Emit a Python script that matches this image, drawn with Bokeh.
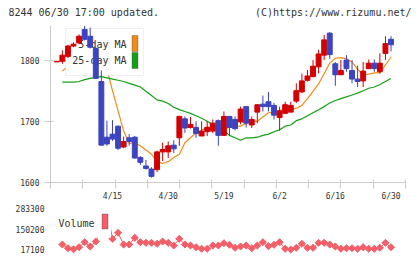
import math
from bokeh.plotting import figure
from bokeh.layouts import column
from bokeh.models import (ColumnDataSource, FixedTicker, NumeralTickFormatter,
                          Label, BoxAnnotation, Range1d)
from bokeh.embed import file_html
from bokeh.resources import INLINE

NAN = float("nan")

# ---- daily prices (trading-day index 0..60) ----
opens = [1797, 1798, 1806, 1823, 1828, 1850, 1839, 1819, 1765, 1674,
         1679, 1692, 1658, 1673, 1674, 1641, 1627, 1622, 1621, 1650,
         1650, 1661, 1673, 1704, 1690, 1690, 1676, 1683, 1684, 1701,
         1677, 1708, 1703, 1699, 1724, 1694, 1715, 1728, 1732, 1726,
         1706, 1713, 1715, 1733, 1748, 1767, 1773, 1789, 1808, 1844,
         1794, 1776, 1800, 1783, 1769, 1766, 1786, 1795, 1781, 1811,
         1834]
highs = [1798, 1816, 1825, 1829, 1842, 1856, 1853, 1821, 1783, 1701,
         1702, 1693, 1675, 1679, 1676, 1643, 1637, 1625, 1652, 1665,
         1667, 1669, 1709, 1708, 1707, 1700, 1700, 1700, 1703, 1703,
         1716, 1708, 1708, 1724, 1724, 1708, 1728, 1742, 1748, 1730,
         1724, 1732, 1732, 1762, 1778, 1784, 1800, 1817, 1841, 1846,
         1797, 1800, 1808, 1800, 1791, 1797, 1801, 1801, 1811, 1839,
         1839]
lows = [1797, 1794, 1803, 1821, 1826, 1832, 1819, 1769, 1660, 1660,
        1668, 1653, 1656, 1660, 1639, 1629, 1621, 1608, 1617, 1635,
        1640, 1648, 1660, 1681, 1688, 1673, 1676, 1676, 1681, 1660,
        1677, 1676, 1685, 1695, 1690, 1689, 1697, 1716, 1716, 1703,
        1685, 1712, 1715, 1730, 1746, 1765, 1772, 1778, 1800, 1802,
        1758, 1776, 1781, 1762, 1756, 1756, 1786, 1781, 1778, 1800,
        1814]
closes = [1798, 1808, 1823, 1826, 1839, 1834, 1821, 1770, 1661, 1663,
          1671, 1656, 1667, 1667, 1640, 1633, 1623, 1610, 1650, 1654,
          1660, 1655, 1708, 1689, 1695, 1680, 1684, 1690, 1697, 1677,
          1708, 1690, 1688, 1720, 1697, 1703, 1727, 1724, 1724, 1710,
          1717, 1727, 1726, 1750, 1766, 1774, 1790, 1810, 1833, 1809,
          1776, 1783, 1786, 1769, 1765, 1782, 1795, 1786, 1795, 1827,
          1825]

# ---- moving averages as plotted ----
ma5 = [NAN, 1782, 1790, 1800, 1808, 1819, 1826, 1829, 1818, 1785,
       1750, 1717, 1684, 1664, 1665, 1660, 1653, 1646, 1635, 1631,
       1634, 1641, 1646, 1665, 1673, 1681, 1685, 1691, 1688, 1689,
       1686, 1691, 1692, 1692, 1697, 1701, 1700, 1707, 1714, 1715,
       1718, 1720, 1720, 1721, 1726, 1737, 1749, 1761, 1778, 1795,
       1803, 1804, 1802, 1797, 1785, 1776, 1777, 1779, 1779, 1792,
       1805]
ma25 = [NAN, 1764, 1764, 1764, 1765, 1768, 1770, 1772, 1773, 1771,
        1769, 1767, 1765, 1762, 1759, 1756, 1749, 1742, 1735, 1733,
        1729, 1723, 1719, 1716, 1713, 1709, 1705, 1700, 1695, 1690,
        1685, 1677, 1673, 1669, 1673, 1673, 1674, 1677, 1679, 1683,
        1686, 1692, 1694, 1701, 1704, 1709, 1714, 1719, 1724, 1730,
        1734, 1737, 1740, 1743, 1746, 1750, 1754, 1756, 1760, 1765,
        1770]

# ---- volume as plotted ----
volume = [NAN, 49800, 25600, 18500, 32100, 64800, 36700, 69400, 160000, 283300,
          87100, 126300, 49800, 49800, 93600, 64800, 60900, 60900, 54400, 69400,
          60900, 43300, 87100, 49800, 43300, 32100, 21700, 21700, 43300, 43300,
          58300, 47800, 28200, 36700, 43300, 25600, 43300, 64800, 38700, 47800,
          64800, 21700, 17100, 28200, 54400, 28200, 28200, 60900, 60900, 49800,
          36700, 21700, 25600, 25600, 21700, 32100, 21700, 21700, 28200, 60900,
          32100]

# ---- axis labels ----
date_pos = [10, 20, 30, 40, 50, 60]
date_text = ["4/15", "4/30", "5/19", "6/2", "6/16", "6/30"]
price_ticks = [1600, 1700, 1800]

header_left = "8244 06/30 17:00 updated."
header_right = "(C)https://www.rizumu.net/"

# ---- styling ----
FONT = "DejaVu Sans Mono"
UP, DOWN = "#d40000", "#3c44c0"
ORANGE, GREEN = "#f08c1a", "#14a014"
VOLC = "#f25f68"
AXIS = "#cccccc"
TXT = "#333333"

X_LO, X_HI = -1.13, 62.6
W = 420
H0 = 25            # header strip
PL, PR = 50, 405   # frame left/right (px)
PT, PB = 25, 184   # price frame top/bottom (canvas px)
H1 = 178           # price panel height
H2 = 56            # volume panel height
V_LO, V_HI = -28680, 317960


def sx(px):
    return px - PL


def sy(py, bottom):
    return bottom - py


# ---- header strip ----
hdr = figure(width=W, height=H0, x_range=Range1d(0, W), y_range=Range1d(H0, 0),
             output_backend="svg", toolbar_location=None,
             x_axis_location=None, y_axis_location=None, min_border=0)
hdr.outline_line_color = None
hdr.grid.visible = False
for txt, px, align in ((header_left, 8, "left"), (header_right, 411, "right")):
    hdr.add_layout(Label(x=px, y=12, text=txt, text_font=FONT, text_font_size="10px",
                         text_color=TXT, text_align=align, text_baseline="middle"))

# ---- price panel ----
idx = list(range(len(opens)))
colors = [UP if c >= o else DOWN for o, c in zip(opens, closes)]
src = ColumnDataSource(dict(
    x=idx, h=highs, l=lows,
    top=[max(o, c) for o, c in zip(opens, closes)],
    bottom=[min(o, c) for o, c in zip(opens, closes)],
    color=colors,
))

p = figure(width=W, height=H1, x_range=Range1d(X_LO, X_HI), y_range=Range1d(1600, 1856.5),
           output_backend="svg", toolbar_location=None,
           min_border_left=PL, min_border_right=W - PR,
           min_border_top=0, min_border_bottom=H1 - (PB - PT))
p.outline_line_color = None
p.grid.visible = False

# moving averages sit beneath the legend box
p.line(idx, ma5, color=ORANGE, line_width=1.2)
p.line(idx, ma25, color=GREEN, line_width=1.2)

wick = p.segment(x0="x", y0="l", x1="x", y1="h", line_color="color", line_width=1, source=src)
body = p.vbar(x="x", width=0.88, top="top", bottom="bottom", fill_color="color",
              line_color="color", line_width=1, source=src)
wick.level = "overlay"
body.level = "overlay"

yax = p.yaxis[0]
yax.ticker = FixedTicker(ticks=price_ticks)
yax.axis_line_color = AXIS
yax.major_tick_line_color = AXIS
yax.minor_tick_line_color = None
yax.major_tick_in = 3
yax.major_tick_out = 6
yax.major_label_standoff = 5
yax.major_label_text_font = FONT
yax.major_label_text_font_size = "8px"
yax.major_label_text_color = TXT

step = (X_HI - X_LO) / 11
xax = p.xaxis[0]
xax.ticker = FixedTicker(ticks=date_pos, minor_ticks=[X_LO + k * step for k in range(12)])
xax.major_label_overrides = {pos: t for pos, t in zip(date_pos, date_text)}
xax.axis_line_color = AXIS
xax.major_tick_line_color = None
xax.major_tick_in = 0
xax.major_tick_out = 0
xax.minor_tick_line_color = AXIS
xax.minor_tick_in = 3
xax.minor_tick_out = 6
xax.major_label_standoff = 3
xax.major_label_text_font = FONT
xax.major_label_text_font_size = "8px"
xax.major_label_text_color = TXT

# MA legend
p.add_layout(BoxAnnotation(left=sx(65), right=sx(143), top=sy(30, PB), bottom=sy(77, PB),
                           left_units="screen", right_units="screen",
                           top_units="screen", bottom_units="screen",
                           fill_color="white", fill_alpha=1.0, line_color=AXIS, line_width=1))
for txt, yc, col, y0, y1 in (("5-day MA", 46, ORANGE, 37, 53), ("25-day MA", 62, GREEN, 54, 70)):
    p.add_layout(Label(x=sx(126), y=sy(yc, PB), x_units="screen", y_units="screen", text=txt,
                       text_font=FONT, text_font_size="10px", text_color=TXT,
                       text_align="right", text_baseline="middle"))
    p.add_layout(BoxAnnotation(left=sx(131.5), right=sx(137.5), top=sy(y0, PB), bottom=sy(y1, PB),
                               left_units="screen", right_units="screen",
                               top_units="screen", bottom_units="screen",
                               fill_color=col, fill_alpha=1.0, line_color="#333333", line_width=1))

# ---- volume panel ----
VB = H2 - 3  # frame bottom in local px
v = figure(width=W, height=H2, x_range=p.x_range, y_range=Range1d(V_LO, V_HI),
           output_backend="svg", toolbar_location=None, x_axis_location=None,
           min_border_left=PL, min_border_right=W - PR, min_border_top=0, min_border_bottom=3)
v.outline_line_color = None
v.grid.visible = False

vals = [x for x in volume if not math.isnan(x)]
vmin, vmax = min(vals), max(vals)
v.line(idx, volume, color=VOLC, line_width=1)
v.scatter(idx, volume, marker="square", size=5, angle=math.pi / 4, color=VOLC)

vy = v.yaxis[0]
vy.ticker = FixedTicker(ticks=[vmin, (vmin + vmax) / 2, vmax])
vy.formatter = NumeralTickFormatter(format="0")
vy.axis_line_color = None
vy.major_tick_line_color = None
vy.minor_tick_line_color = None
vy.major_tick_in = 0
vy.major_tick_out = 0
vy.major_label_standoff = 6
vy.major_label_text_font = FONT
vy.major_label_text_font_size = "8px"
vy.major_label_text_color = TXT

# volume legend (local px of this panel)
v.add_layout(BoxAnnotation(left=sx(55), right=sx(110.5), top=sy(0, VB), bottom=sy(34, VB),
                           left_units="screen", right_units="screen",
                           top_units="screen", bottom_units="screen",
                           fill_color="white", fill_alpha=1.0, line_color=None))
v.add_layout(Label(x=sx(58), y=sy(19.5, VB), x_units="screen", y_units="screen", text="Volume",
                   text_font=FONT, text_font_size="10px", text_color=TXT,
                   text_align="left", text_baseline="middle"))
v.add_layout(BoxAnnotation(left=sx(101.5), right=sx(107.5), top=sy(10.5, VB), bottom=sy(25.5, VB),
                           left_units="screen", right_units="screen",
                           top_units="screen", bottom_units="screen",
                           fill_color=VOLC, fill_alpha=1.0, line_color="#333333", line_width=1))

# header kept in its own box so its frame spans the full width
layout = column(hdr, column(p, v, spacing=0), spacing=0)
open("out.html", "w").write(file_html(layout, INLINE))
